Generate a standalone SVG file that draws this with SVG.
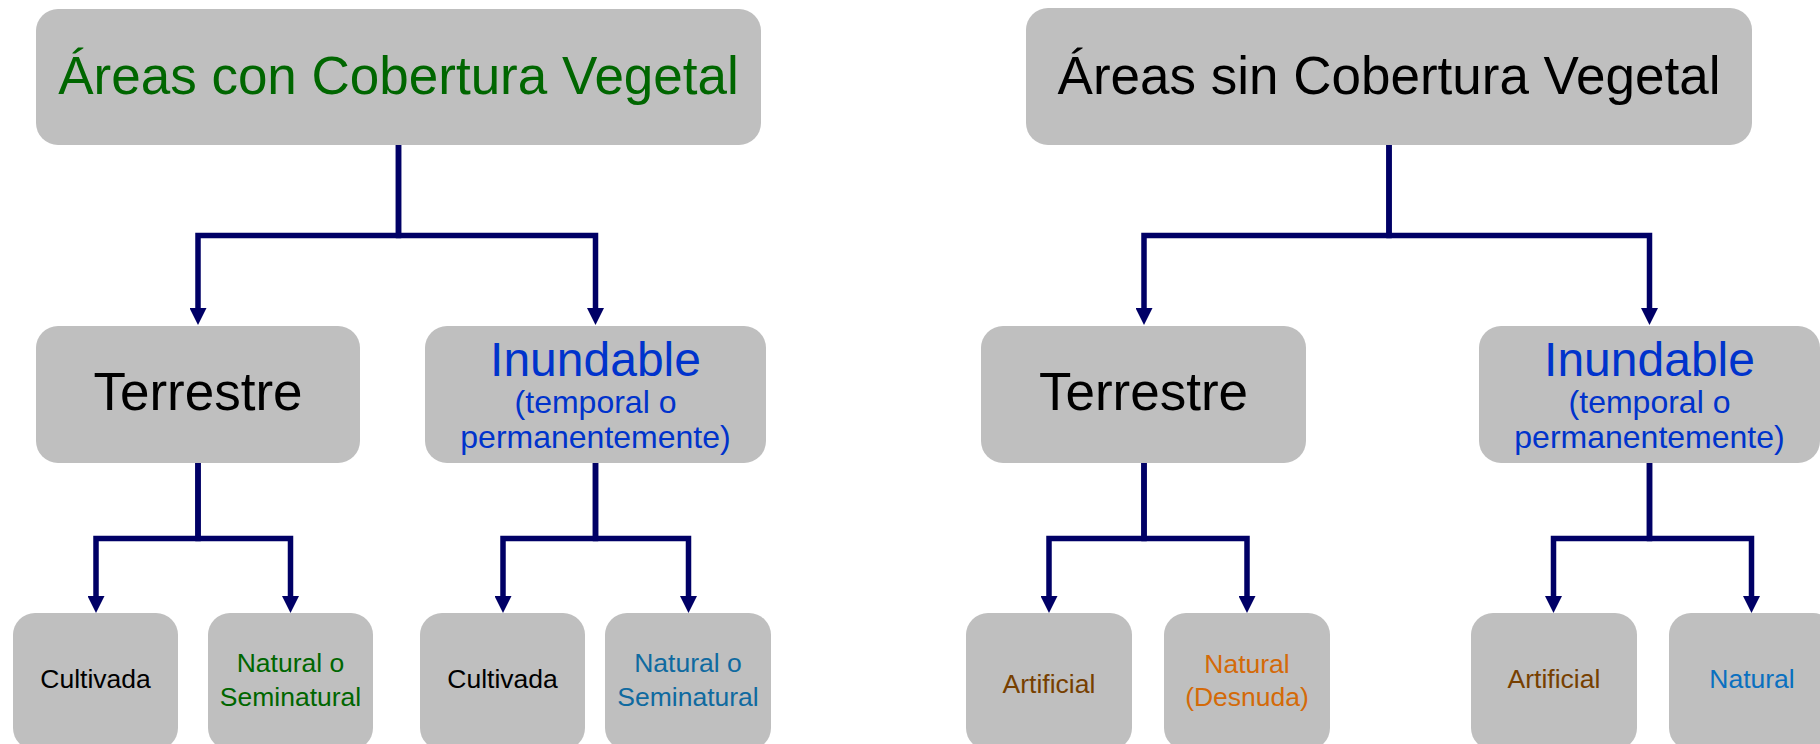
<svg xmlns="http://www.w3.org/2000/svg" width="1820" height="744" viewBox="0 0 1820 744">
<defs>
<marker id="ah" markerUnits="userSpaceOnUse" markerWidth="17" markerHeight="17" refX="0" refY="8.5" orient="auto" viewBox="0 0 17 17">
<path d="M0,0 L17,8.5 L0,17 z" fill="#000066"/>
</marker>
</defs>
<style>
.box{fill:#bfbfbf}
.t{font-family:"Liberation Sans",Arial,sans-serif;text-anchor:middle}
.big{font-size:53px}
.mid{font-size:53px}
.inu{font-size:48px;fill:#0033cc}
.sub{font-size:32px;fill:#0033cc}
.sm{font-size:26.5px}
.c{fill:none;stroke:#000066;stroke-width:5.5;stroke-linejoin:miter;marker-end:url(#ah)}
</style>
<rect width="1820" height="744" fill="#ffffff"/>
<g id="connectors">
<path class="c" d="M398.5,145 V235.5 H198 V308"/>
<path class="c" d="M398.5,145 V235.5 H595.5 V308"/>
<path class="c" d="M1389,145 V235.5 H1144 V308"/>
<path class="c" d="M1389,145 V235.5 H1649.5 V308"/>
<path class="c" d="M198,463 V538.5 H96 V596"/>
<path class="c" d="M198,463 V538.5 H290.5 V596"/>
<path class="c" d="M595.5,463 V538.5 H503 V596"/>
<path class="c" d="M595.5,463 V538.5 H688.5 V596"/>
<path class="c" d="M1144,463 V538.5 H1049 V596"/>
<path class="c" d="M1144,463 V538.5 H1247 V596"/>
<path class="c" d="M1649.5,463 V538.5 H1553.5 V596"/>
<path class="c" d="M1649.5,463 V538.5 H1751.5 V596"/>
</g>
<g id="n-con">
<rect class="box" x="36" y="9" width="725" height="136" rx="22"/>
<text class="t big" x="398.5" y="94" fill="#006600">Áreas con Cobertura Vegetal</text>
</g>
<g id="n-sin">
<rect class="box" x="1026" y="8" width="726" height="137" rx="22"/>
<text class="t big" x="1389" y="94" fill="#000000">Áreas sin Cobertura Vegetal</text>
</g>
<g id="n-l-terrestre">
<rect class="box" x="36" y="326" width="324" height="137" rx="22"/>
<text class="t mid" x="198" y="410" fill="#000000">Terrestre</text>
</g>
<g id="n-l-inundable">
<rect class="box" x="425" y="326" width="341" height="137" rx="22"/>
<text class="t inu" x="595.5" y="376">Inundable</text>
<text class="t sub" x="595.5" y="413">(temporal o</text>
<text class="t sub" x="595.5" y="448">permanentemente)</text>
</g>
<g id="n-r-terrestre">
<rect class="box" x="981" y="326" width="325" height="137" rx="22"/>
<text class="t mid" x="1143.5" y="410" fill="#000000">Terrestre</text>
</g>
<g id="n-r-inundable">
<rect class="box" x="1479" y="326" width="341" height="137" rx="22"/>
<text class="t inu" x="1649.5" y="376">Inundable</text>
<text class="t sub" x="1649.5" y="413">(temporal o</text>
<text class="t sub" x="1649.5" y="448">permanentemente)</text>
</g>
<g id="n-l-cultivada">
<rect class="box" x="13" y="613" width="165" height="137" rx="22"/>
<text class="t sm" x="95.5" y="688" fill="#000000">Cultivada</text>
</g>
<g id="n-l-natural">
<rect class="box" x="208" y="613" width="165" height="137" rx="22"/>
<text class="t sm" x="290.5" y="672" fill="#006600">Natural o</text>
<text class="t sm" x="290.5" y="706" fill="#006600">Seminatural</text>
</g>
<g id="n-i-cultivada">
<rect class="box" x="420" y="613" width="165" height="137" rx="22"/>
<text class="t sm" x="502.5" y="688" fill="#000000">Cultivada</text>
</g>
<g id="n-i-natural">
<rect class="box" x="605" y="613" width="166" height="137" rx="22"/>
<text class="t sm" x="688" y="672" fill="#0f6aa0">Natural o</text>
<text class="t sm" x="688" y="706" fill="#0f6aa0">Seminatural</text>
</g>
<g id="n-r-artificial">
<rect class="box" x="966" y="613" width="166" height="137" rx="22"/>
<text class="t sm" x="1049" y="693" fill="#773f00">Artificial</text>
</g>
<g id="n-r-desnuda">
<rect class="box" x="1164" y="613" width="166" height="137" rx="22"/>
<text class="t sm" x="1247" y="673" fill="#d46a08">Natural</text>
<text class="t sm" x="1247" y="706" fill="#d46a08">(Desnuda)</text>
</g>
<g id="n-ri-artificial">
<rect class="box" x="1471" y="613" width="166" height="137" rx="22"/>
<text class="t sm" x="1554" y="688" fill="#773f00">Artificial</text>
</g>
<g id="n-ri-natural">
<rect class="box" x="1669" y="613" width="166" height="137" rx="22"/>
<text class="t sm" x="1752" y="688" fill="#0a70c0">Natural</text>
</g>
</svg>
